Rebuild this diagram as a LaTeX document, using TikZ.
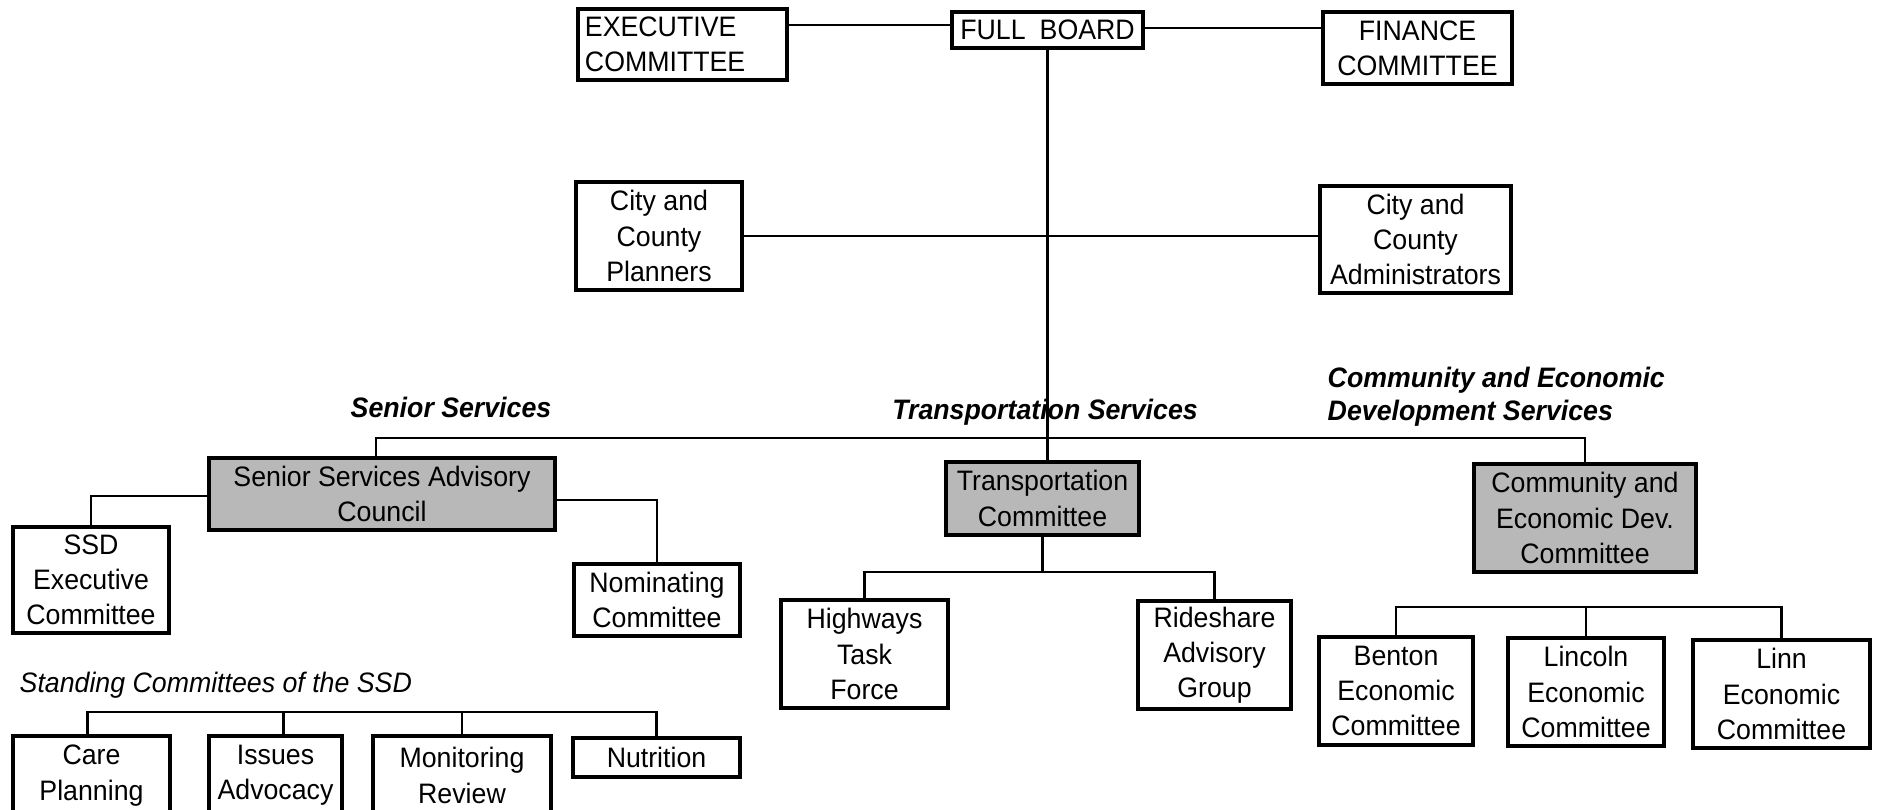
\documentclass[tikz,border=0pt]{standalone}
\usepackage{fontspec}
\setmainfont{Liberation Sans}[FakeStretch=0.95]
\usetikzlibrary{positioning}

\begin{document}
\begin{tikzpicture}[x=0.01cm,y=-0.01cm,
 font=\fontsize{8}{10}\selectfont,
 box/.style 2 args={draw,line width=1pt,align=center,inner sep=1pt,minimum width=#1,minimum height=#2},
 shaded/.style={fill=black!28},
 link/.style={line width=0.75pt},
 head/.style={font=\fontsize{8}{9.4}\selectfont\bfseries\itshape,align=left,inner sep=0pt}]
 \useasboundingbox (0,0) rectangle (1877,809);
 \clip (0,0) rectangle (1877,809);

 \node[box={2.09cm}{0.71cm},text width=1.95cm,align=left] (exec) at (682.5,44.5) {EXECUTIVE\\COMMITTEE};
 \node[box={1.91cm}{0.36cm}] (board) at (1047.5,30) {FULL\enspace BOARD};
 \node[box={1.89cm}{0.72cm}] (finance) at (1417.5,48) {FINANCE\\COMMITTEE};
 \node[box={1.66cm}{1.08cm}] (planners) at (659,236) {City and\\County\\Planners};
 \node[box={1.91cm}{1.07cm}] (admins) at (1415.5,239.5) {City and\\County\\Administrators};

 \node[head] (senior) at (451,407) {Senior Services};
 \node[head] (transhead) at (1045,412) {Transportation Services};
 \node[head,anchor=west] (commhead) at (1327,397) {Community and Economic\\Development Services};
 \node[head,font=\fontsize{8}{10}\selectfont\itshape,anchor=west] (standing) at (19,685) {Standing Committees of the SSD};

 \node[box={3.46cm}{0.72cm},shaded] (council) at (382,494) {Senior Services Advisory\\Council};
 \node[box={1.56cm}{1.06cm}] (ssdexec) at (91,580) {SSD\\Executive\\Committee};
 \node[box={1.66cm}{0.72cm}] (nominating) at (657,600) {Nominating\\Committee};
 \node[box={1.57cm}{0.79cm}] (care) at (91.5,775.5) {Care\\Planning};
 \node[box={1.33cm}{0.79cm}] (issues) at (275.5,775.5) {Issues\\Advocacy};
 \node[box={1.78cm}{0.79cm}] (monitoring) at (462,775.5) {Monitoring\\Review};
 \node[box={1.67cm}{0.39cm}] (nutrition) at (656.5,757.5) {Nutrition};

 \node[box={1.93cm}{0.73cm},shaded] (transport) at (1042.5,498.5) {Transportation\\Committee};
 \node[box={1.67cm}{1.08cm}] (highways) at (864.5,654) {Highways\\Task\\Force};
 \node[box={1.53cm}{1.08cm}] (rideshare) at (1214.5,655) {Rideshare\\Advisory\\Group};

 \node[box={2.22cm}{1.08cm},shaded] (community) at (1585,518) {Community and\\Economic Dev.\\Committee};
 \node[box={1.54cm}{1.08cm}] (benton) at (1396,691) {Benton\\Economic\\Committee};
 \node[box={1.56cm}{1.08cm}] (lincoln) at (1586,692) {Lincoln\\Economic\\Committee};
 \node[box={1.77cm}{1.08cm}] (linn) at (1781.5,694) {Linn\\Economic\\Committee};

 \draw[link] ([yshift=0.05cm]board.west) -- ([yshift=0.05cm]board.west -| exec.east);
 \draw[link] ([yshift=0.02cm]board.east) -- ([yshift=0.02cm]board.east -| finance.west);
 \draw[link] (board.south) -- (board.south |- transport.north);
 \draw[link] (planners.east) -- (planners.east -| admins.west);

 \coordinate (bus) at (1044,438);
 \draw[link] ([xshift=-0.06cm]council.north) |- (bus) -| (community.north);
 \draw[link] ([yshift=-0.02cm]council.west) -| (ssdexec.north);
 \draw[link] ([yshift=-0.06cm]council.east) -| (nominating.north);

 \coordinate (sbus) at (370,712);
 \draw[link] ([xshift=-0.04cm]care.north) |- (sbus) -| (nutrition.north);
 \draw[link] ([xshift=0.08cm]issues.north) -- ([xshift=0.08cm]issues.north |- sbus);
 \draw[link] (monitoring.north) -- (monitoring.north |- sbus);

 \coordinate (tbus) at (1042.5,572);
 \draw[link] (transport.south) -- (tbus);
 \draw[link] (highways.north) |- (tbus) -| (rideshare.north);

 \coordinate (ebus) at (1590,607);
 \draw[link] (benton.north) |- (ebus) -| (linn.north);
 \draw[link] (lincoln.north) -- (lincoln.north |- ebus);
\end{tikzpicture}
\end{document}
